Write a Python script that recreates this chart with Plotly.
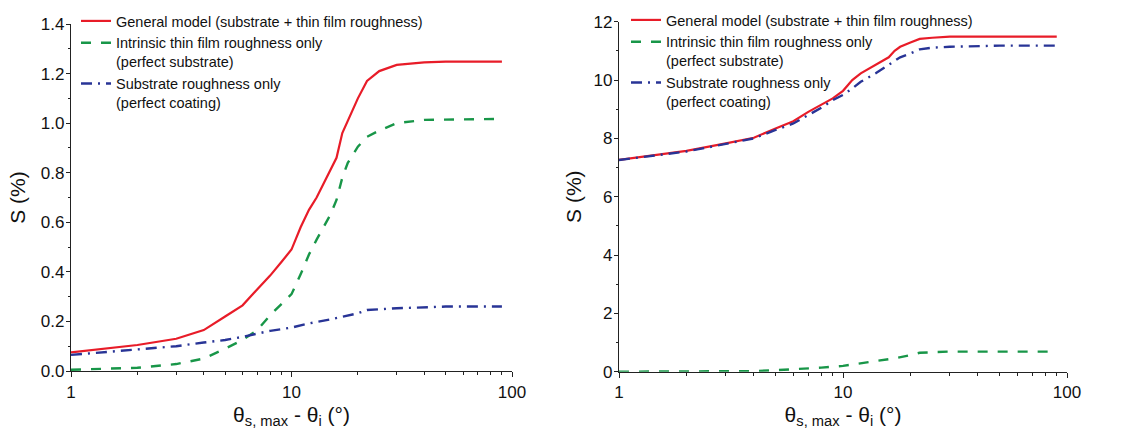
import plotly.graph_objects as go

# ---------------- data ----------------
x_left_red = [1, 2, 3, 4, 5, 6, 7, 8, 9, 10, 11, 12, 13, 14, 15, 16, 17, 18, 19, 20, 22, 25, 30, 40, 50, 90]
y_left_red = [0.075, 0.105, 0.13, 0.165, 0.22, 0.265, 0.33, 0.385, 0.44, 0.49, 0.58, 0.65, 0.70, 0.757,
              0.81, 0.86, 0.96, 1.01, 1.06, 1.10, 1.17, 1.21, 1.235, 1.245, 1.248, 1.248]

x_left_green = [1, 2, 3, 4, 5, 6, 7, 8, 9, 10, 11, 12, 13, 14, 15, 16, 17, 18, 20, 22, 25, 30, 40, 90]
y_left_green = [0.005, 0.013, 0.028, 0.05, 0.09, 0.125, 0.165, 0.225, 0.27, 0.31, 0.39, 0.47, 0.53, 0.58,
                0.63, 0.69, 0.78, 0.84, 0.905, 0.945, 0.97, 1.0, 1.013, 1.017]

x_left_blue = [1, 2, 3, 4, 5, 6, 7, 8, 10, 12, 15, 17, 20, 22, 30, 50, 90]
y_left_blue = [0.065, 0.087, 0.10, 0.115, 0.125, 0.138, 0.152, 0.162, 0.175, 0.192, 0.208, 0.22, 0.233,
               0.246, 0.253, 0.26, 0.26]

x_right_red = [1, 2, 3, 4, 5, 6, 7, 8, 9, 10, 11, 12, 14, 16, 17, 18, 20, 22, 25, 30, 90]
y_right_red = [7.26, 7.57, 7.83, 8.02, 8.34, 8.59, 8.91, 9.14, 9.37, 9.63, 10.0, 10.23, 10.51, 10.78,
               11.0, 11.14, 11.29, 11.41, 11.45, 11.49, 11.49]

x_right_green = [1, 2, 3, 4, 5, 6, 8, 10, 12, 15, 17, 20, 22, 30, 90]
y_right_green = [0.0, 0.0, 0.0, 0.02, 0.05, 0.08, 0.14, 0.2, 0.29, 0.4, 0.46, 0.57, 0.65, 0.69, 0.69]

x_right_blue = [1, 2, 3, 4, 5, 6, 7, 8, 9, 10, 11, 12, 14, 16, 18, 20, 22, 25, 30, 50, 90]
y_right_blue = [7.26, 7.55, 7.81, 8.0, 8.29, 8.51, 8.8, 9.05, 9.31, 9.49, 9.71, 9.94, 10.23, 10.51,
                10.78, 10.91, 11.05, 11.11, 11.14, 11.18, 11.18]

names = ["General model (substrate + thin film roughness)",
         "Intrinsic thin film roughness only<br>(perfect substrate)",
         "Substrate roughness only<br>(perfect coating)"]

x_ticks = [1, 10, 100]
x_minor = [2, 3, 4, 5, 6, 7, 8, 9, 20, 30, 40, 50, 60, 70, 80, 90]

# ---------------- styles ----------------
RED = "rgb(232,28,40)"
GREEN = "rgb(24,150,72)"
BLUE = "rgb(40,52,150)"
FONT = "Liberation Sans, Arial, sans-serif"

fig = go.Figure()

styles = [dict(color=RED, width=2.2, dash="solid"),
          dict(color=GREEN, width=2.4, dash="10px,10px"),
          dict(color=BLUE, width=2.4, dash="11px,6px,2px,6px")]

left = [(x_left_red, y_left_red), (x_left_green, y_left_green), (x_left_blue, y_left_blue)]
right = [(x_right_red, y_right_red), (x_right_green, y_right_green), (x_right_blue, y_right_blue)]

for (xs, ys), nm, st in zip(left, names, styles):
    fig.add_trace(go.Scatter(x=xs, y=ys, mode="lines", name=nm, line=st,
                             xaxis="x", yaxis="y", legend="legend"))
for (xs, ys), nm, st in zip(right, names, styles):
    fig.add_trace(go.Scatter(x=xs, y=ys, mode="lines", name=nm, line=st,
                             xaxis="x2", yaxis="y2", legend="legend2"))

W, H = 1135, 429

def xaxis(dom, anchor):
    return dict(type="log", domain=dom, anchor=anchor, range=[0, 2], automargin=False,
                tickvals=x_ticks, ticktext=["1", "10", "100"],
                ticks="outside", ticklen=5, tickwidth=1, tickcolor="#222",
                ticklabelstandoff=0,
                minor=dict(tickvals=x_minor, ticks="outside", ticklen=3, tickcolor="#222", showgrid=False),
                showline=True, linecolor="#222", linewidth=1.2, showgrid=False, zeroline=False,
                tickfont=dict(family=FONT, size=17, color="#111"),
                title=dict(text="θ<sub>s, max</sub> - θ<sub>i</sub> (°)",
                           font=dict(family=FONT, size=21, color="#111"), standoff=9))

def yaxis(dom, anchor, rng, dtick, mdtick, fmt, standoff):
    return dict(domain=dom, anchor=anchor, range=rng, dtick=dtick, tick0=0, tickformat=fmt,
                automargin=False,
                ticks="outside", ticklen=4, tickwidth=1, tickcolor="#222",
                ticklabelstandoff=-2,
                minor=dict(dtick=mdtick, tick0=0, ticks="outside", ticklen=2, tickcolor="#222", showgrid=False),
                showline=True, linecolor="#222", linewidth=1.2, showgrid=False, zeroline=False,
                tickfont=dict(family=FONT, size=17, color="#111"),
                title=dict(text="S (%)", font=dict(family=FONT, size=21, color="#111"), standoff=standoff))

fig.update_layout(
    width=W, height=H,
    margin=dict(l=0, r=0, t=0, b=0),
    paper_bgcolor="white", plot_bgcolor="white",
    showlegend=True,
    xaxis=xaxis([71 / W, 512 / W], "y"),
    yaxis=yaxis([1 - 371 / H, 1 - 24 / H], "x", [0, 1.4], 0.2, 0.1, ".1f", 9),
    xaxis2=xaxis([619 / W, 1067 / W], "y2"),
    yaxis2=yaxis([1 - 371.7 / H, 1 - 21.7 / H], "x2", [0, 12], 2, 1, "d", 6),
    legend=dict(x=76 / W, y=1 - 5 / H, xanchor="left", yanchor="top", bgcolor="rgba(0,0,0,0)",
                font=dict(family=FONT, size=14.5, color="#111"), valign="top",
                tracegroupgap=0, itemwidth=30, xref="paper", yref="paper"),
    legend2=dict(x=626 / W, y=1 - 4 / H, xanchor="left", yanchor="top", bgcolor="rgba(0,0,0,0)",
                 font=dict(family=FONT, size=14.5, color="#111"), valign="top",
                 tracegroupgap=0, itemwidth=30, xref="paper", yref="paper"),
)

fig.write_html("out.html")
